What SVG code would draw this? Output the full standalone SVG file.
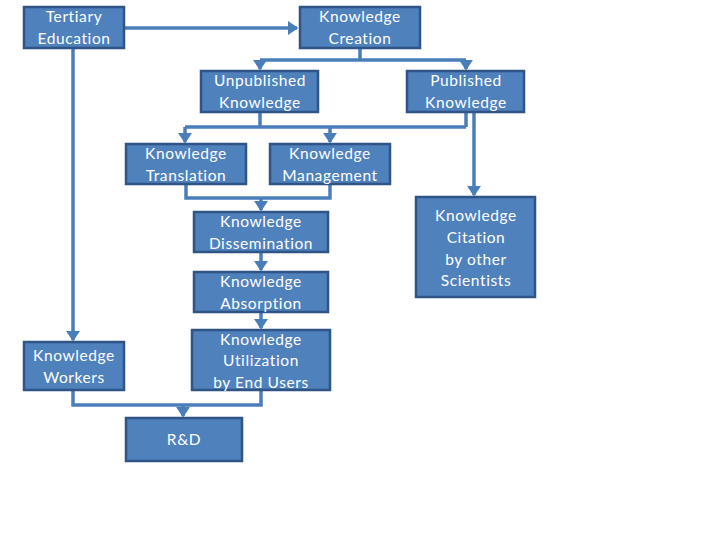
<svg xmlns="http://www.w3.org/2000/svg" width="720" height="540" viewBox="0 0 720 540">
<style>
.b{fill:#4f81bd;stroke:#2f5485;stroke-width:2.5}
.t{font-family:Lato,"Liberation Sans",sans-serif;font-size:15.5px;fill:#ffffff;text-anchor:middle;letter-spacing:0.6px}
.c{fill:none;stroke:#4a7ebb;stroke-width:3.5}
</style>
<defs>
<marker id="a" markerWidth="4" markerHeight="4" refX="2.6" refY="2" orient="auto" markerUnits="strokeWidth">
<path d="M0,0 L3,2 L0,4 z" fill="#4a7ebb"/>
</marker>
</defs>
<rect width="720" height="540" fill="#ffffff"/>
<g id="connectors">
<path class="c" d="M124,28 H297" marker-end="url(#a)"/>
<path class="c" d="M360,48 V60 M260,60 H466"/>
<path class="c" d="M260,60 V69" marker-end="url(#a)"/>
<path class="c" d="M466,60 V69" marker-end="url(#a)"/>
<path class="c" d="M260,112 V127 M466,112 V127 M185,127 H466"/>
<path class="c" d="M185,127 V142" marker-end="url(#a)"/>
<path class="c" d="M330,127 V142" marker-end="url(#a)"/>
<path class="c" d="M474,112 V195" marker-end="url(#a)"/>
<path class="c" d="M186,184 V198 H330 V184"/>
<path class="c" d="M261,198 V210" marker-end="url(#a)"/>
<path class="c" d="M261,252 V270" marker-end="url(#a)"/>
<path class="c" d="M261,312 V328" marker-end="url(#a)"/>
<path class="c" d="M73,48 V340" marker-end="url(#a)"/>
<path class="c" d="M73,390 V405 H261 V390"/>
<path class="c" d="M183,405 V416" marker-end="url(#a)"/>
</g>
<g id="tertiary"><rect class="b" x="24" y="7" width="100" height="41"/><text class="t" x="74" y="22">Tertiary</text><text class="t" x="74" y="44">Education</text></g>
<g id="creation"><rect class="b" x="300" y="7" width="120" height="41"/><text class="t" x="360" y="22">Knowledge</text><text class="t" x="360" y="44">Creation</text></g>
<g id="unpublished"><rect class="b" x="201" y="71" width="117" height="41"/><text class="t" x="260" y="86">Unpublished</text><text class="t" x="260" y="108">Knowledge</text></g>
<g id="published"><rect class="b" x="407" y="71" width="117" height="41"/><text class="t" x="466" y="86">Published</text><text class="t" x="466" y="108">Knowledge</text></g>
<g id="translation"><rect class="b" x="126" y="144" width="120" height="40"/><text class="t" x="186" y="159">Knowledge</text><text class="t" x="186" y="181">Translation</text></g>
<g id="management"><rect class="b" x="270" y="144" width="120" height="40"/><text class="t" x="330" y="159">Knowledge</text><text class="t" x="330" y="181">Management</text></g>
<g id="dissemination"><rect class="b" x="194" y="212" width="134" height="40"/><text class="t" x="261" y="227">Knowledge</text><text class="t" x="261" y="249">Dissemination</text></g>
<g id="absorption"><rect class="b" x="194" y="272" width="134" height="40"/><text class="t" x="261" y="287">Knowledge</text><text class="t" x="261" y="309">Absorption</text></g>
<g id="utilization"><rect class="b" x="192" y="330" width="138" height="60"/><text class="t" x="261" y="345">Knowledge</text><text class="t" x="261" y="366">Utilization</text><text class="t" x="261" y="388">by End Users</text></g>
<g id="workers"><rect class="b" x="24" y="342" width="100" height="48"/><text class="t" x="74" y="361">Knowledge</text><text class="t" x="74" y="383">Workers</text></g>
<g id="citation"><rect class="b" x="416" y="197" width="119" height="100"/><text class="t" x="476" y="221">Knowledge</text><text class="t" x="476" y="243">Citation</text><text class="t" x="476" y="265">by other</text><text class="t" x="476" y="286">Scientists</text></g>
<g id="rd"><rect class="b" x="126" y="418" width="116" height="43"/><text class="t" x="184" y="445">R&amp;D</text></g>
</svg>
